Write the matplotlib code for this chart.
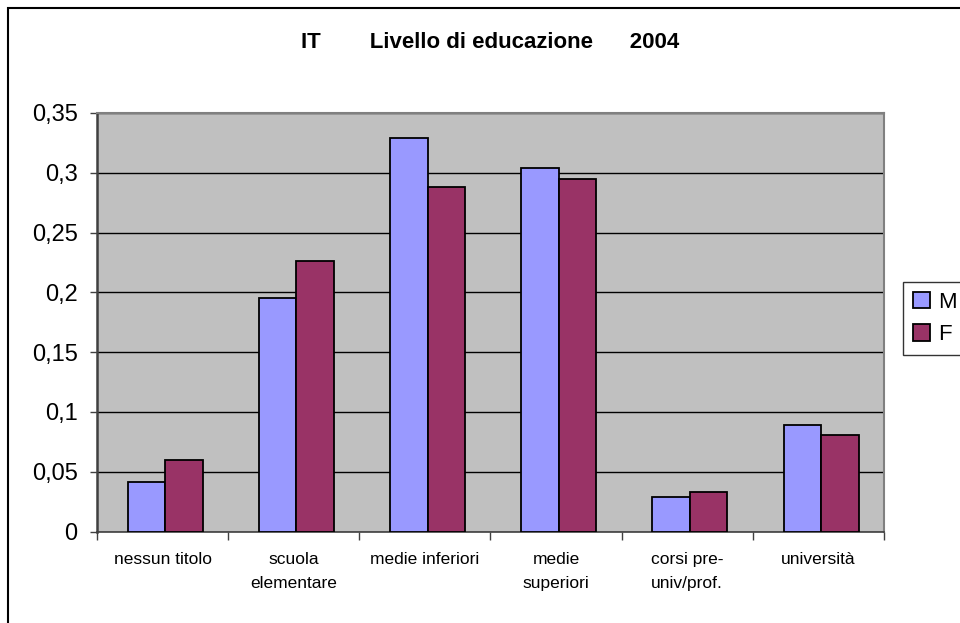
import matplotlib
matplotlib.use("Agg")
import matplotlib.pyplot as plt
from matplotlib.patches import Rectangle
from matplotlib.ticker import FuncFormatter, FixedLocator
import numpy as np

categories = ["nessun titolo", "scuola\nelementare", "medie inferiori",
              "medie\nsuperiori", "corsi pre-\nuniv/prof.", "università"]
values_M = [0.041, 0.195, 0.329, 0.304, 0.029, 0.089]
values_F = [0.060, 0.226, 0.288, 0.295, 0.033, 0.081]
series_names = ["M", "F"]
title = "IT        Livello di educazione      2004"
yticks = [0, 0.05, 0.1, 0.15, 0.2, 0.25, 0.3, 0.35]

plt.rcParams['font.family'] = ['Liberation Sans', 'DejaVu Sans']

W, H = 960, 623
fig = plt.figure(figsize=(W / 100, H / 100), dpi=100)
fig.patch.set_facecolor("white")

# outer chart border
fig.patches.append(Rectangle((7.5 / W, -0.05), 1.2, 1 - 7.5 / H + 0.05,
                             transform=fig.transFigure, fill=False,
                             edgecolor="black", linewidth=1.5, zorder=0))

left, right, top, bottom = 97, 884, 113, 531.5
ax = fig.add_axes([left / W, 1 - bottom / H, (right - left) / W, (bottom - top) / H])
ax.set_facecolor("#C0C0C0")

x = np.arange(len(categories))
bw = 0.286
ax.bar(x - bw / 2 + 0.02, values_M, bw, color="#9999FF", edgecolor="black",
       linewidth=1.3, label=series_names[0], zorder=3)
ax.bar(x + bw / 2 + 0.02, values_F, bw, color="#993366", edgecolor="black",
       linewidth=1.3, label=series_names[1], zorder=3)

ax.set_xlim(-0.5, len(categories) - 0.5)
ax.set_ylim(0, 0.35)
ax.set_yticks(yticks)
ax.yaxis.set_major_formatter(FuncFormatter(lambda v, p: ("%g" % round(v, 2)).replace(".", ",")))
ax.tick_params(axis="y", labelsize=17, length=5, width=1, color="#404040", pad=9)
ax.grid(axis="y", color="black", linewidth=1, zorder=1)
ax.set_axisbelow(True)

# x ticks at category boundaries, labels centered
ax.xaxis.set_major_locator(FixedLocator(np.arange(-0.5, len(categories), 1.0)))
ax.xaxis.set_major_formatter(FuncFormatter(lambda v, p: ""))
ax.set_xticks(x, labels=categories, minor=True)
ax.tick_params(axis="x", which="major", length=6, width=1, color="#404040", direction="out")
ax.tick_params(axis="x", which="minor", length=0, labelsize=12.5, pad=15)
for lab in ax.get_xticklabels(minor=True):
    lab.set_linespacing(1.75)
    lab.set_verticalalignment("top")

for s in ["top", "right"]:
    ax.spines[s].set_color("#808080")
    ax.spines[s].set_linewidth(1.5)
ax.spines["left"].set_color("#404040")
ax.spines["left"].set_linewidth(1.8)
ax.spines["bottom"].set_color("#404040")
ax.spines["bottom"].set_linewidth(1.2)

fig.text(490 / W, 1 - 42 / H, title, ha="center", va="center",
         fontsize=16, fontweight="bold")

leg = fig.legend(loc="upper left", bbox_to_anchor=(903 / W, 1 - 282 / H),
                 fontsize=16, frameon=True, fancybox=False, edgecolor="black",
                 handlelength=0.75, handleheight=0.75, handletextpad=0.4,
                 borderpad=0.45, labelspacing=0.5, borderaxespad=0)
leg.get_frame().set_linewidth(1.0)

fig.savefig("out.png", dpi=100, facecolor="white")
